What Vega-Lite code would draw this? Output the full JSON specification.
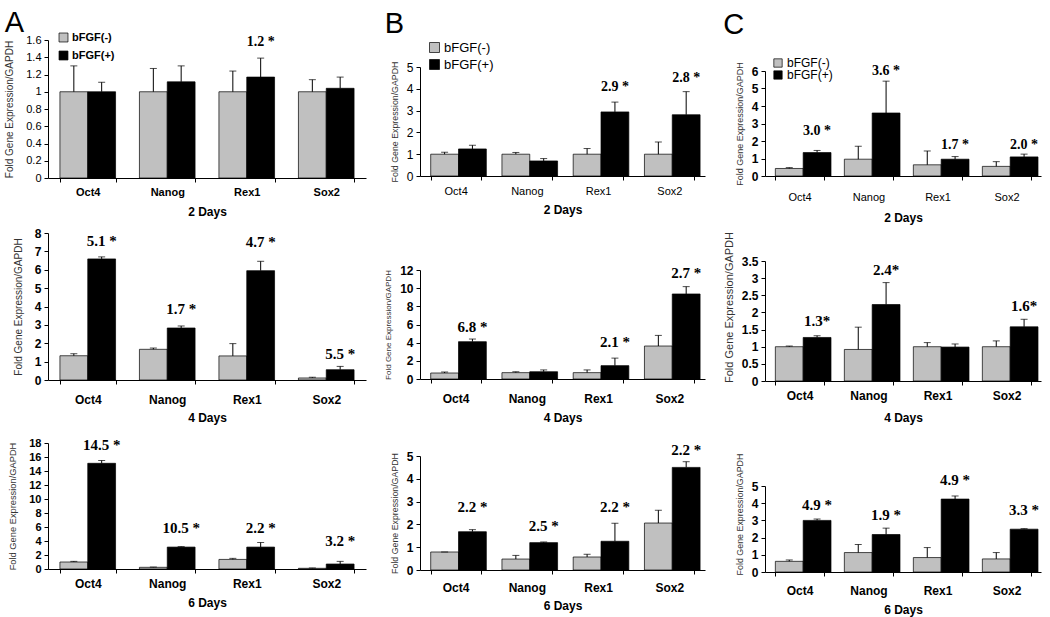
{
"$schema": "https://vega.github.io/schema/vega-lite/v6.json",
"padding": {"left": 4, "top": 9, "right": 2, "bottom": 2},
"background": "white",
"datasets": {"d": [
{"panel":"A1","gene":"Oct4","group":"bFGF(-)","value":1.0,"hi":1.30},
{"panel":"A1","gene":"Oct4","group":"bFGF(+)","value":1.0,"hi":1.11},
{"panel":"A1","gene":"Nanog","group":"bFGF(-)","value":1.0,"hi":1.27},
{"panel":"A1","gene":"Nanog","group":"bFGF(+)","value":1.115,"hi":1.30},
{"panel":"A1","gene":"Rex1","group":"bFGF(-)","value":1.0,"hi":1.24},
{"panel":"A1","gene":"Rex1","group":"bFGF(+)","value":1.17,"hi":1.39,"label":"1.2 *","ly":1.58},
{"panel":"A1","gene":"Sox2","group":"bFGF(-)","value":1.0,"hi":1.14},
{"panel":"A1","gene":"Sox2","group":"bFGF(+)","value":1.04,"hi":1.17},
{"panel":"B1","gene":"Oct4","group":"bFGF(-)","value":1.0,"hi":1.09},
{"panel":"B1","gene":"Oct4","group":"bFGF(+)","value":1.24,"hi":1.41},
{"panel":"B1","gene":"Nanog","group":"bFGF(-)","value":1.0,"hi":1.08},
{"panel":"B1","gene":"Nanog","group":"bFGF(+)","value":0.69,"hi":0.80},
{"panel":"B1","gene":"Rex1","group":"bFGF(-)","value":1.0,"hi":1.26},
{"panel":"B1","gene":"Rex1","group":"bFGF(+)","value":2.94,"hi":3.39,"label":"2.9 *","ly":4.06},
{"panel":"B1","gene":"Sox2","group":"bFGF(-)","value":1.0,"hi":1.56},
{"panel":"B1","gene":"Sox2","group":"bFGF(+)","value":2.81,"hi":3.87,"label":"2.8 *","ly":4.49},
{"panel":"C1","gene":"Oct4","group":"bFGF(-)","value":0.43,"hi":0.48},
{"panel":"C1","gene":"Oct4","group":"bFGF(+)","value":1.34,"hi":1.46,"label":"3.0 *","ly":2.6},
{"panel":"C1","gene":"Nanog","group":"bFGF(-)","value":0.96,"hi":1.7},
{"panel":"C1","gene":"Nanog","group":"bFGF(+)","value":3.6,"hi":5.42,"label":"3.6 *","ly":6.0},
{"panel":"C1","gene":"Rex1","group":"bFGF(-)","value":0.64,"hi":1.43},
{"panel":"C1","gene":"Rex1","group":"bFGF(+)","value":0.96,"hi":1.11,"label":"1.7 *","ly":1.77},
{"panel":"C1","gene":"Sox2","group":"bFGF(-)","value":0.55,"hi":0.82},
{"panel":"C1","gene":"Sox2","group":"bFGF(+)","value":1.09,"hi":1.25,"label":"2.0 *","ly":1.77},
{"panel":"A2","gene":"Oct4","group":"bFGF(-)","value":1.32,"hi":1.43},
{"panel":"A2","gene":"Oct4","group":"bFGF(+)","value":6.59,"hi":6.70,"label":"5.1 *","ly":7.55},
{"panel":"A2","gene":"Nanog","group":"bFGF(-)","value":1.67,"hi":1.74},
{"panel":"A2","gene":"Nanog","group":"bFGF(+)","value":2.83,"hi":2.94,"label":"1.7 *","ly":3.88},
{"panel":"A2","gene":"Rex1","group":"bFGF(-)","value":1.31,"hi":1.98},
{"panel":"A2","gene":"Rex1","group":"bFGF(+)","value":5.95,"hi":6.46,"label":"4.7 *","ly":7.5},
{"panel":"A2","gene":"Sox2","group":"bFGF(-)","value":0.11,"hi":0.15},
{"panel":"A2","gene":"Sox2","group":"bFGF(+)","value":0.56,"hi":0.74,"label":"5.5 *","ly":1.4},
{"panel":"B2","gene":"Oct4","group":"bFGF(-)","value":0.66,"hi":0.77},
{"panel":"B2","gene":"Oct4","group":"bFGF(+)","value":4.11,"hi":4.40,"label":"6.8 *","ly":5.76},
{"panel":"B2","gene":"Nanog","group":"bFGF(-)","value":0.70,"hi":0.80},
{"panel":"B2","gene":"Nanog","group":"bFGF(+)","value":0.80,"hi":1.00},
{"panel":"B2","gene":"Rex1","group":"bFGF(-)","value":0.70,"hi":1.00},
{"panel":"B2","gene":"Rex1","group":"bFGF(+)","value":1.47,"hi":2.30,"label":"2.1 *","ly":4.04},
{"panel":"B2","gene":"Sox2","group":"bFGF(-)","value":3.63,"hi":4.80},
{"panel":"B2","gene":"Sox2","group":"bFGF(+)","value":9.36,"hi":10.17,"label":"2.7 *","ly":11.67},
{"panel":"C2","gene":"Oct4","group":"bFGF(-)","value":1.0,"hi":1.02},
{"panel":"C2","gene":"Oct4","group":"bFGF(+)","value":1.27,"hi":1.32,"label":"1.3*","ly":1.75},
{"panel":"C2","gene":"Nanog","group":"bFGF(-)","value":0.92,"hi":1.57},
{"panel":"C2","gene":"Nanog","group":"bFGF(+)","value":2.23,"hi":2.87,"label":"2.4*","ly":3.23},
{"panel":"C2","gene":"Rex1","group":"bFGF(-)","value":1.0,"hi":1.12},
{"panel":"C2","gene":"Rex1","group":"bFGF(+)","value":0.99,"hi":1.08},
{"panel":"C2","gene":"Sox2","group":"bFGF(-)","value":1.0,"hi":1.17},
{"panel":"C2","gene":"Sox2","group":"bFGF(+)","value":1.58,"hi":1.80,"label":"1.6*","ly":2.19},
{"panel":"A3","gene":"Oct4","group":"bFGF(-)","value":1.0,"hi":1.09},
{"panel":"A3","gene":"Oct4","group":"bFGF(+)","value":15.1,"hi":15.5,"label":"14.5 *","ly":17.7},
{"panel":"A3","gene":"Nanog","group":"bFGF(-)","value":0.24,"hi":0.28},
{"panel":"A3","gene":"Nanog","group":"bFGF(+)","value":3.13,"hi":3.2,"label":"10.5 *","ly":5.92},
{"panel":"A3","gene":"Rex1","group":"bFGF(-)","value":1.37,"hi":1.52},
{"panel":"A3","gene":"Rex1","group":"bFGF(+)","value":3.13,"hi":3.79,"label":"2.2 *","ly":5.92},
{"panel":"A3","gene":"Sox2","group":"bFGF(-)","value":0.1,"hi":0.15},
{"panel":"A3","gene":"Sox2","group":"bFGF(+)","value":0.71,"hi":1.09,"label":"3.2 *","ly":4.03},
{"panel":"B3","gene":"Oct4","group":"bFGF(-)","value":0.79,"hi":0.79},
{"panel":"B3","gene":"Oct4","group":"bFGF(+)","value":1.68,"hi":1.77,"label":"2.2 *","ly":2.75},
{"panel":"B3","gene":"Nanog","group":"bFGF(-)","value":0.48,"hi":0.64},
{"panel":"B3","gene":"Nanog","group":"bFGF(+)","value":1.20,"hi":1.23,"label":"2.5 *","ly":1.94},
{"panel":"B3","gene":"Rex1","group":"bFGF(-)","value":0.57,"hi":0.69},
{"panel":"B3","gene":"Rex1","group":"bFGF(+)","value":1.26,"hi":2.05,"label":"2.2 *","ly":2.75},
{"panel":"B3","gene":"Sox2","group":"bFGF(-)","value":2.06,"hi":2.62},
{"panel":"B3","gene":"Sox2","group":"bFGF(+)","value":4.50,"hi":4.75,"label":"2.2 *","ly":5.26},
{"panel":"C3","gene":"Oct4","group":"bFGF(-)","value":0.62,"hi":0.70},
{"panel":"C3","gene":"Oct4","group":"bFGF(+)","value":3.0,"hi":3.08,"label":"4.9 *","ly":3.89},
{"panel":"C3","gene":"Nanog","group":"bFGF(-)","value":1.13,"hi":1.60},
{"panel":"C3","gene":"Nanog","group":"bFGF(+)","value":2.18,"hi":2.55,"label":"1.9 *","ly":3.31},
{"panel":"C3","gene":"Rex1","group":"bFGF(-)","value":0.84,"hi":1.42},
{"panel":"C3","gene":"Rex1","group":"bFGF(+)","value":4.24,"hi":4.42,"label":"4.9 *","ly":5.35},
{"panel":"C3","gene":"Sox2","group":"bFGF(-)","value":0.76,"hi":1.13},
{"panel":"C3","gene":"Sox2","group":"bFGF(+)","value":2.49,"hi":2.52,"label":"3.3 *","ly":3.6}
]},
"data": {"name": "d"},
"config": {
  "view": {"stroke": null},
  "font": "Liberation Sans",
  "axis": {"domainColor": "black", "tickColor": "black", "labelColor": "black", "grid": false, "labelFont": "Liberation Sans", "titleFont": "Liberation Sans", "domainWidth": 1, "tickWidth": 1},
  "axisY": {"titleFontWeight": "normal", "titleColor": "#333333", "tickSize": 4, "labelFontSize": 12, "labelFontWeight": "bold", "labelPadding": 3, "titlePadding": 7},
  "axisX": {"labelAngle": 0, "tickBand": "extent", "tickSize": 4, "labelFontSize": 12, "labelFontWeight": "bold", "titleFontSize": 12, "titleFontWeight": "bold", "titleColor": "black", "labelPadding": 5, "titlePadding": 6},
  "title": {"fontSize": 29, "fontWeight": "normal", "anchor": "start", "font": "Liberation Sans", "color": "black"}
},
"resolve": {"legend": {"color": "independent"}},
"spacing": 18,
"hconcat": [
{
  "title": {"text": "A", "offset": 0, "dy": 6},
  "spacing": 10,
  "resolve": {"legend": {"color": "independent"}},
  "vconcat": [
  {
    "width": 318, "height": 138,
    "transform": [{"filter": "datum.panel == 'A1'"}],
    "encoding": {
      "x": {"field": "gene", "type": "nominal", "sort": ["Oct4","Nanog","Rex1","Sox2"], "scale": {"paddingInner": 0.3, "paddingOuter": 0.15}, "axis": {"title": "2 Days", "labelFontSize": 11, "labelPadding": 4, "titlePadding": 9}},
      "xOffset": {"field": "group", "type": "nominal", "sort": ["bFGF(-)","bFGF(+)"]}
    },
    "layer": [
      {"mark": {"type": "bar", "stroke": "black", "strokeWidth": 0.7},
       "encoding": {
         "y": {"field": "value", "type": "quantitative", "scale": {"domain": [0, 1.6], "nice": false}, "axis": {"title": "Fold Gene Expression/GAPDH", "titleFontSize": 10, "titlePadding": 11, "values": [0,0.2,0.4,0.6,0.8,1,1.2,1.4,1.6], "format": "~g", "labelFontWeight": "normal", "labelFontSize": 11}},
         "color": {"field": "group", "type": "nominal", "scale": {"domain": ["bFGF(-)","bFGF(+)"], "range": ["#c0c0c0","#000000"]}, "legend": {"orient": "none", "legendX": 10, "legendY": -8, "title": null, "symbolType": "square", "symbolSize": 80, "labelFontSize": 11, "labelFontWeight": "bold", "symbolStrokeColor": "black", "symbolStrokeWidth": 0.7, "rowPadding": 5, "labelOffset": 3}}
       }},
      {"mark": {"type": "rule", "color": "black", "strokeWidth": 1}, "encoding": {"y": {"field": "value", "type": "quantitative", "axis": {"title": "Fold Gene Expression/GAPDH", "titleFontSize": 10, "titlePadding": 11, "values": [0,0.2,0.4,0.6,0.8,1,1.2,1.4,1.6], "format": "~g", "labelFontWeight": "normal", "labelFontSize": 11}}, "y2": {"field": "hi"}}},
      {"mark": {"type": "tick", "color": "black", "thickness": 1, "size": 7}, "encoding": {"y": {"field": "hi", "type": "quantitative", "axis": {"title": "Fold Gene Expression/GAPDH", "titleFontSize": 10, "titlePadding": 11, "values": [0,0.2,0.4,0.6,0.8,1,1.2,1.4,1.6], "format": "~g", "labelFontWeight": "normal", "labelFontSize": 11}}}},
      {"transform": [{"filter": "isValid(datum.label)"}], "mark": {"type": "text", "font": "Liberation Serif", "fontWeight": "bold", "fontSize": 14, "baseline": "middle"}, "encoding": {"y": {"field": "ly", "type": "quantitative", "axis": {"title": "Fold Gene Expression/GAPDH", "titleFontSize": 10, "titlePadding": 11, "values": [0,0.2,0.4,0.6,0.8,1,1.2,1.4,1.6], "format": "~g", "labelFontWeight": "normal", "labelFontSize": 11}}, "text": {"field": "label"}}}
    ]
  },
  {
    "spacing": 14,
    "resolve": {"legend": {"color": "independent"}},
    "vconcat": [
    {
      "width": 318, "height": 147,
      "transform": [{"filter": "datum.panel == 'A2'"}],
      "encoding": {
        "x": {"field": "gene", "type": "nominal", "sort": ["Oct4","Nanog","Rex1","Sox2"], "scale": {"paddingInner": 0.3, "paddingOuter": 0.15}, "axis": {"title": "4 Days", "labelPadding": 10, "titlePadding": 7}},
        "xOffset": {"field": "group", "type": "nominal", "sort": ["bFGF(-)","bFGF(+)"]}
      },
      "layer": [
        {"mark": {"type": "bar", "stroke": "black", "strokeWidth": 0.7},
         "encoding": {
           "y": {"field": "value", "type": "quantitative", "scale": {"domain": [0, 8], "nice": false}, "axis": {"title": "Fold Gene Expression/GAPDH", "titleFontSize": 10, "titlePadding": 11, "values": [0,1,2,3,4,5,6,7,8]}},
           "color": {"field": "group", "type": "nominal", "scale": {"domain": ["bFGF(-)","bFGF(+)"], "range": ["#c0c0c0","#000000"]}, "legend": null}
         }},
        {"mark": {"type": "rule", "color": "black", "strokeWidth": 1}, "encoding": {"y": {"field": "value", "type": "quantitative", "axis": {"title": "Fold Gene Expression/GAPDH", "titleFontSize": 10, "titlePadding": 11, "values": [0,1,2,3,4,5,6,7,8]}}, "y2": {"field": "hi"}}},
        {"mark": {"type": "tick", "color": "black", "thickness": 1, "size": 7}, "encoding": {"y": {"field": "hi", "type": "quantitative", "axis": {"title": "Fold Gene Expression/GAPDH", "titleFontSize": 10, "titlePadding": 11, "values": [0,1,2,3,4,5,6,7,8]}}}},
        {"transform": [{"filter": "isValid(datum.label)"}], "mark": {"type": "text", "font": "Liberation Serif", "fontWeight": "bold", "fontSize": 15, "baseline": "middle"}, "encoding": {"y": {"field": "ly", "type": "quantitative", "axis": {"title": "Fold Gene Expression/GAPDH", "titleFontSize": 10, "titlePadding": 11, "values": [0,1,2,3,4,5,6,7,8]}}, "text": {"field": "label"}}}
      ]
    },
    {
      "width": 318, "height": 126,
      "transform": [{"filter": "datum.panel == 'A3'"}],
      "encoding": {
        "x": {"field": "gene", "type": "nominal", "sort": ["Oct4","Nanog","Rex1","Sox2"], "scale": {"paddingInner": 0.3, "paddingOuter": 0.15}, "axis": {"title": "6 Days", "titlePadding": 8}},
        "xOffset": {"field": "group", "type": "nominal", "sort": ["bFGF(-)","bFGF(+)"]}
      },
      "layer": [
        {"mark": {"type": "bar", "stroke": "black", "strokeWidth": 0.7},
         "encoding": {
           "y": {"field": "value", "type": "quantitative", "scale": {"domain": [0, 18], "nice": false}, "axis": {"title": "Fold Gene Expression/GAPDH", "titleFontSize": 9.3, "titlePadding": 11, "values": [0,2,4,6,8,10,12,14,16,18], "labelFontSize": 11}},
           "color": {"field": "group", "type": "nominal", "scale": {"domain": ["bFGF(-)","bFGF(+)"], "range": ["#c0c0c0","#000000"]}, "legend": null}
         }},
        {"mark": {"type": "rule", "color": "black", "strokeWidth": 1}, "encoding": {"y": {"field": "value", "type": "quantitative", "axis": {"title": "Fold Gene Expression/GAPDH", "titleFontSize": 9.3, "titlePadding": 11, "values": [0,2,4,6,8,10,12,14,16,18], "labelFontSize": 11}}, "y2": {"field": "hi"}}},
        {"mark": {"type": "tick", "color": "black", "thickness": 1, "size": 7}, "encoding": {"y": {"field": "hi", "type": "quantitative", "axis": {"title": "Fold Gene Expression/GAPDH", "titleFontSize": 9.3, "titlePadding": 11, "values": [0,2,4,6,8,10,12,14,16,18], "labelFontSize": 11}}}},
        {"transform": [{"filter": "isValid(datum.label)"}], "mark": {"type": "text", "font": "Liberation Serif", "fontWeight": "bold", "fontSize": 15, "baseline": "middle"}, "encoding": {"y": {"field": "ly", "type": "quantitative", "axis": {"title": "Fold Gene Expression/GAPDH", "titleFontSize": 9.3, "titlePadding": 11, "values": [0,2,4,6,8,10,12,14,16,18], "labelFontSize": 11}}, "text": {"field": "label"}}}
      ]
    }
    ]
  }
  ]
},
{
  "title": {"text": "B", "offset": 1},
  "spacing": 0,
  "resolve": {"legend": {"color": "independent"}},
  "vconcat": [
  {"width": 1, "height": 1, "transform": [{"filter": "false"}], "mark": "point", "encoding": {}},
  {
  "spacing": 49,
  "resolve": {"legend": {"color": "independent"}},
  "vconcat": [
  {
    "width": 285, "height": 109,
    "transform": [{"filter": "datum.panel == 'B1'"}],
    "encoding": {
      "x": {"field": "gene", "type": "nominal", "sort": ["Oct4","Nanog","Rex1","Sox2"], "scale": {"paddingInner": 0.3, "paddingOuter": 0.15}, "axis": {"title": "2 Days", "labelFontSize": 11, "labelFontWeight": "normal", "titlePadding": 8}},
      "xOffset": {"field": "group", "type": "nominal", "sort": ["bFGF(-)","bFGF(+)"]}
    },
    "layer": [
      {"mark": {"type": "bar", "stroke": "black", "strokeWidth": 0.7},
       "encoding": {
         "y": {"field": "value", "type": "quantitative", "scale": {"domain": [0, 5], "nice": false}, "axis": {"title": "Fold Gene Expression/GAPDH", "titleFontSize": 8.8, "values": [0,1,2,3,4,5], "labelFontWeight": "normal"}},
         "color": {"field": "group", "type": "nominal", "scale": {"domain": ["bFGF(-)","bFGF(+)"], "range": ["#c0c0c0","#000000"]}, "legend": {"orient": "none", "legendX": 8, "legendY": -26, "title": null, "symbolType": "square", "symbolSize": 100, "labelFontSize": 13, "symbolStrokeColor": "black", "symbolStrokeWidth": 0.7, "rowPadding": 3, "labelOffset": 3}}
       }},
      {"mark": {"type": "rule", "color": "black", "strokeWidth": 1}, "encoding": {"y": {"field": "value", "type": "quantitative", "axis": {"title": "Fold Gene Expression/GAPDH", "titleFontSize": 8.8, "values": [0,1,2,3,4,5], "labelFontWeight": "normal"}}, "y2": {"field": "hi"}}},
      {"mark": {"type": "tick", "color": "black", "thickness": 1, "size": 7}, "encoding": {"y": {"field": "hi", "type": "quantitative", "axis": {"title": "Fold Gene Expression/GAPDH", "titleFontSize": 8.8, "values": [0,1,2,3,4,5], "labelFontWeight": "normal"}}}},
      {"transform": [{"filter": "isValid(datum.label)"}], "mark": {"type": "text", "font": "Liberation Serif", "fontWeight": "bold", "fontSize": 14, "baseline": "middle"}, "encoding": {"y": {"field": "ly", "type": "quantitative", "axis": {"title": "Fold Gene Expression/GAPDH", "titleFontSize": 8.8, "values": [0,1,2,3,4,5], "labelFontWeight": "normal"}}, "text": {"field": "label"}}}
    ]
  },
  {
    "spacing": 20,
    "resolve": {"legend": {"color": "independent"}},
    "vconcat": [
    {
      "width": 285, "height": 109,
      "transform": [{"filter": "datum.panel == 'B2'"}],
      "encoding": {
        "x": {"field": "gene", "type": "nominal", "sort": ["Oct4","Nanog","Rex1","Sox2"], "scale": {"paddingInner": 0.3, "paddingOuter": 0.15}, "axis": {"title": "4 Days", "labelPadding": 10, "titlePadding": 8}},
        "xOffset": {"field": "group", "type": "nominal", "sort": ["bFGF(-)","bFGF(+)"]}
      },
      "layer": [
        {"mark": {"type": "bar", "stroke": "black", "strokeWidth": 0.7},
         "encoding": {
           "y": {"field": "value", "type": "quantitative", "scale": {"domain": [0, 12], "nice": false}, "axis": {"title": "Fold Gene Expression/GAPDH", "titleFontSize": 8, "values": [0,2,4,6,8,10,12]}},
           "color": {"field": "group", "type": "nominal", "scale": {"domain": ["bFGF(-)","bFGF(+)"], "range": ["#c0c0c0","#000000"]}, "legend": null}
         }},
        {"mark": {"type": "rule", "color": "black", "strokeWidth": 1}, "encoding": {"y": {"field": "value", "type": "quantitative", "axis": {"title": "Fold Gene Expression/GAPDH", "titleFontSize": 8, "values": [0,2,4,6,8,10,12]}}, "y2": {"field": "hi"}}},
        {"mark": {"type": "tick", "color": "black", "thickness": 1, "size": 7}, "encoding": {"y": {"field": "hi", "type": "quantitative", "axis": {"title": "Fold Gene Expression/GAPDH", "titleFontSize": 8, "values": [0,2,4,6,8,10,12]}}}},
        {"transform": [{"filter": "isValid(datum.label)"}], "mark": {"type": "text", "font": "Liberation Serif", "fontWeight": "bold", "fontSize": 15, "baseline": "middle"}, "encoding": {"y": {"field": "ly", "type": "quantitative", "axis": {"title": "Fold Gene Expression/GAPDH", "titleFontSize": 8, "values": [0,2,4,6,8,10,12]}}, "text": {"field": "label"}}}
      ]
    },
    {
      "width": 285, "height": 114,
      "transform": [{"filter": "datum.panel == 'B3'"}],
      "encoding": {
        "x": {"field": "gene", "type": "nominal", "sort": ["Oct4","Nanog","Rex1","Sox2"], "scale": {"paddingInner": 0.3, "paddingOuter": 0.15}, "axis": {"title": "6 Days", "labelPadding": 8, "titlePadding": 7}},
        "xOffset": {"field": "group", "type": "nominal", "sort": ["bFGF(-)","bFGF(+)"]}
      },
      "layer": [
        {"mark": {"type": "bar", "stroke": "black", "strokeWidth": 0.7},
         "encoding": {
           "y": {"field": "value", "type": "quantitative", "scale": {"domain": [0, 5], "nice": false}, "axis": {"title": "Fold Gene Expression/GAPDH", "titleFontSize": 8.8, "values": [0,1,2,3,4,5]}},
           "color": {"field": "group", "type": "nominal", "scale": {"domain": ["bFGF(-)","bFGF(+)"], "range": ["#c0c0c0","#000000"]}, "legend": null}
         }},
        {"mark": {"type": "rule", "color": "black", "strokeWidth": 1}, "encoding": {"y": {"field": "value", "type": "quantitative", "axis": {"title": "Fold Gene Expression/GAPDH", "titleFontSize": 8.8, "values": [0,1,2,3,4,5]}}, "y2": {"field": "hi"}}},
        {"mark": {"type": "tick", "color": "black", "thickness": 1, "size": 7}, "encoding": {"y": {"field": "hi", "type": "quantitative", "axis": {"title": "Fold Gene Expression/GAPDH", "titleFontSize": 8.8, "values": [0,1,2,3,4,5]}}}},
        {"transform": [{"filter": "isValid(datum.label)"}], "mark": {"type": "text", "font": "Liberation Serif", "fontWeight": "bold", "fontSize": 15, "baseline": "middle"}, "encoding": {"y": {"field": "ly", "type": "quantitative", "axis": {"title": "Fold Gene Expression/GAPDH", "titleFontSize": 8.8, "values": [0,1,2,3,4,5]}}, "text": {"field": "label"}}}
      ]
    }
    ]
  }
  ]
  }
  ]
},
{
  "title": {"text": "C", "offset": 0},
  "spacing": 16,
  "resolve": {"legend": {"color": "independent"}},
  "vconcat": [
  {"width": 1, "height": 1, "transform": [{"filter": "false"}], "mark": "point", "encoding": {}},
  {
  "spacing": 8,
  "resolve": {"legend": {"color": "independent"}},
  "vconcat": [
  {
    "width": 276, "height": 105,
    "transform": [{"filter": "datum.panel == 'C1'"}],
    "encoding": {
      "x": {"field": "gene", "type": "nominal", "sort": ["Oct4","Nanog","Rex1","Sox2"], "scale": {"paddingInner": 0.3, "paddingOuter": 0.15}, "axis": {"title": "2 Days", "labelFontSize": 11, "labelFontWeight": "normal", "labelPadding": 11, "titlePadding": 10}},
      "xOffset": {"field": "group", "type": "nominal", "sort": ["bFGF(-)","bFGF(+)"]}
    },
    "layer": [
      {"mark": {"type": "bar", "stroke": "black", "strokeWidth": 0.7},
       "encoding": {
         "y": {"field": "value", "type": "quantitative", "scale": {"domain": [0, 6], "nice": false}, "axis": {"title": "Fold Gene Expression/GAPDH", "titleFontSize": 9, "values": [0,1,2,3,4,5,6]}},
         "color": {"field": "group", "type": "nominal", "scale": {"domain": ["bFGF(-)","bFGF(+)"], "range": ["#c0c0c0","#000000"]}, "legend": {"orient": "none", "legendX": 7, "legendY": -14, "title": null, "symbolType": "square", "symbolSize": 70, "labelFontSize": 12, "symbolStrokeColor": "black", "symbolStrokeWidth": 0.7, "rowPadding": -1, "labelOffset": 3}}
       }},
      {"mark": {"type": "rule", "color": "black", "strokeWidth": 1}, "encoding": {"y": {"field": "value", "type": "quantitative", "axis": {"title": "Fold Gene Expression/GAPDH", "titleFontSize": 9, "values": [0,1,2,3,4,5,6]}}, "y2": {"field": "hi"}}},
      {"mark": {"type": "tick", "color": "black", "thickness": 1, "size": 7}, "encoding": {"y": {"field": "hi", "type": "quantitative", "axis": {"title": "Fold Gene Expression/GAPDH", "titleFontSize": 9, "values": [0,1,2,3,4,5,6]}}}},
      {"transform": [{"filter": "isValid(datum.label)"}], "mark": {"type": "text", "font": "Liberation Serif", "fontWeight": "bold", "fontSize": 14, "baseline": "middle"}, "encoding": {"y": {"field": "ly", "type": "quantitative", "axis": {"title": "Fold Gene Expression/GAPDH", "titleFontSize": 9, "values": [0,1,2,3,4,5,6]}}, "text": {"field": "label"}}}
    ]
  },
  {
    "spacing": 30,
    "resolve": {"legend": {"color": "independent"}},
    "vconcat": [
    {
      "width": 276, "height": 120,
      "transform": [{"filter": "datum.panel == 'C2'"}],
      "encoding": {
        "x": {"field": "gene", "type": "nominal", "sort": ["Oct4","Nanog","Rex1","Sox2"], "scale": {"paddingInner": 0.3, "paddingOuter": 0.15}, "axis": {"title": "4 Days", "labelPadding": 5, "titlePadding": 11}},
        "xOffset": {"field": "group", "type": "nominal", "sort": ["bFGF(-)","bFGF(+)"]}
      },
      "layer": [
        {"mark": {"type": "bar", "stroke": "black", "strokeWidth": 0.7},
         "encoding": {
           "y": {"field": "value", "type": "quantitative", "scale": {"domain": [0, 3.5], "nice": false}, "axis": {"title": "Fold Gene Expression/GAPDH", "titleFontSize": 11, "titleY": 46, "values": [0,0.5,1,1.5,2,2.5,3,3.5], "format": "~g"}},
           "color": {"field": "group", "type": "nominal", "scale": {"domain": ["bFGF(-)","bFGF(+)"], "range": ["#c0c0c0","#000000"]}, "legend": null}
         }},
        {"mark": {"type": "rule", "color": "black", "strokeWidth": 1}, "encoding": {"y": {"field": "value", "type": "quantitative", "axis": {"title": "Fold Gene Expression/GAPDH", "titleFontSize": 11, "titleY": 46, "values": [0,0.5,1,1.5,2,2.5,3,3.5], "format": "~g"}}, "y2": {"field": "hi"}}},
        {"mark": {"type": "tick", "color": "black", "thickness": 1, "size": 7}, "encoding": {"y": {"field": "hi", "type": "quantitative", "axis": {"title": "Fold Gene Expression/GAPDH", "titleFontSize": 11, "titleY": 46, "values": [0,0.5,1,1.5,2,2.5,3,3.5], "format": "~g"}}}},
        {"transform": [{"filter": "isValid(datum.label)"}], "mark": {"type": "text", "font": "Liberation Serif", "fontWeight": "bold", "fontSize": 15, "baseline": "middle"}, "encoding": {"y": {"field": "ly", "type": "quantitative", "axis": {"title": "Fold Gene Expression/GAPDH", "titleFontSize": 11, "titleY": 46, "values": [0,0.5,1,1.5,2,2.5,3,3.5], "format": "~g"}}, "text": {"field": "label"}}}
      ]
    },
    {
      "width": 276, "height": 86,
      "transform": [{"filter": "datum.panel == 'C3'"}],
      "encoding": {
        "x": {"field": "gene", "type": "nominal", "sort": ["Oct4","Nanog","Rex1","Sox2"], "scale": {"paddingInner": 0.3, "paddingOuter": 0.15}, "axis": {"title": "6 Days", "labelPadding": 9, "titlePadding": 8}},
        "xOffset": {"field": "group", "type": "nominal", "sort": ["bFGF(-)","bFGF(+)"]}
      },
      "layer": [
        {"mark": {"type": "bar", "stroke": "black", "strokeWidth": 0.7},
         "encoding": {
           "y": {"field": "value", "type": "quantitative", "scale": {"domain": [0, 5], "nice": false}, "axis": {"title": "Fold Gene Expression/GAPDH", "titleFontSize": 8.9, "titleY": 28, "values": [0,1,2,3,4,5]}},
           "color": {"field": "group", "type": "nominal", "scale": {"domain": ["bFGF(-)","bFGF(+)"], "range": ["#c0c0c0","#000000"]}, "legend": null}
         }},
        {"mark": {"type": "rule", "color": "black", "strokeWidth": 1}, "encoding": {"y": {"field": "value", "type": "quantitative", "axis": {"title": "Fold Gene Expression/GAPDH", "titleFontSize": 8.9, "titleY": 28, "values": [0,1,2,3,4,5]}}, "y2": {"field": "hi"}}},
        {"mark": {"type": "tick", "color": "black", "thickness": 1, "size": 7}, "encoding": {"y": {"field": "hi", "type": "quantitative", "axis": {"title": "Fold Gene Expression/GAPDH", "titleFontSize": 8.9, "titleY": 28, "values": [0,1,2,3,4,5]}}}},
        {"transform": [{"filter": "isValid(datum.label)"}], "mark": {"type": "text", "font": "Liberation Serif", "fontWeight": "bold", "fontSize": 15, "baseline": "middle"}, "encoding": {"y": {"field": "ly", "type": "quantitative", "axis": {"title": "Fold Gene Expression/GAPDH", "titleFontSize": 8.9, "titleY": 28, "values": [0,1,2,3,4,5]}}, "text": {"field": "label"}}}
      ]
    }
    ]
  }
  ]
  }
  ]
}
]
}
